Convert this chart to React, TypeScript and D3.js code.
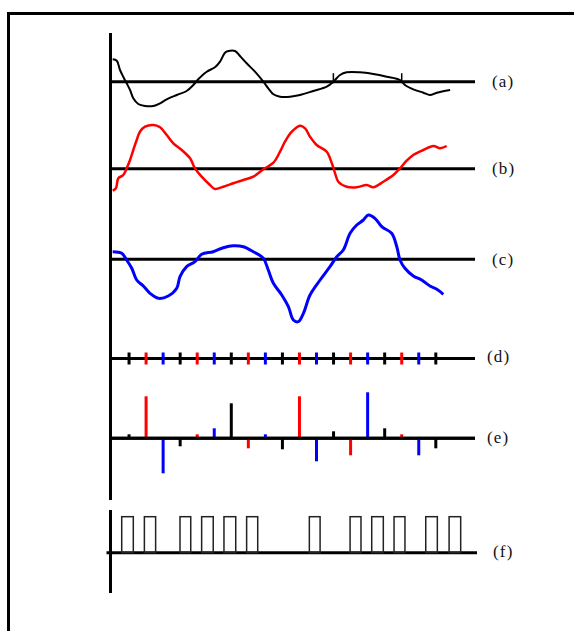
import React from "react";
import * as d3 from "d3";

// Panel labels
const labels = ["(a)", "(b)", "(c)", "(d)", "(e)", "(f)"];

// Waveform (a): [time, amplitude]
const waveA: [number, number][] = [
  [0.04, 2.24], [0.28, 2.1], [0.47, 1.17], [0.66, 0.5], [0.86, -0.16], [1.06, -0.83],
  [1.25, -1.66], [1.54, -2.23], [1.94, -2.43], [2.42, -2.43], [2.82, -2.16], [3.21, -1.76],
  [3.8, -1.33], [4.38, -0.93], [4.77, -0.33], [5.06, 0.24], [5.56, 1.0], [6.04, 1.44],
  [6.34, 2.0], [6.63, 2.9], [6.83, 3.07], [7.22, 3.07], [7.51, 2.57], [7.9, 1.84],
  [8.39, 1.0], [8.88, 0.0], [9.17, -0.66], [9.47, -1.26], [9.86, -1.5], [10.45, -1.5],
  [11.03, -1.33], [11.81, -0.93], [12.6, -0.5], [12.99, 0.0], [13.38, 0.67], [13.77, 0.94],
  [14.55, 0.94], [15.33, 0.77], [16.12, 0.5], [16.9, 0.17], [17.19, -0.33], [17.68, -0.76],
  [18.27, -1.1], [18.66, -1.33], [19.06, -1.1], [19.84, -0.83],
];
// small vertical marks on (a)
const markA = [12.99, 17.0];

// Waveform (b)
const waveB: [number, number][] = [
  [0.04, -2.2], [0.23, -1.96], [0.37, -0.96], [0.66, -0.63], [0.86, 0.04], [1.06, 0.87],
  [1.25, 1.87], [1.45, 2.87], [1.64, 3.7], [1.94, 4.2], [2.42, 4.37], [2.82, 4.14],
  [3.21, 3.37], [3.6, 2.54], [4.09, 1.87], [4.58, 1.04], [4.87, 0.04], [5.26, -0.8],
  [5.75, -1.63], [6.04, -2.03], [6.53, -1.8], [7.12, -1.46], [7.71, -1.13], [8.29, -0.8],
  [8.88, -0.06], [9.47, 0.6], [9.86, 1.7], [10.15, 2.7], [10.55, 3.7], [11.03, 4.3],
  [11.33, 4.04], [11.62, 3.2], [12.01, 2.37], [12.6, 1.7], [12.9, 0.54], [13.09, -0.46],
  [13.28, -1.3], [13.77, -1.8], [14.36, -1.86], [14.95, -1.63], [15.33, -1.86], [15.92, -1.3],
  [16.51, -0.63], [16.9, 0.04], [17.29, 0.8], [17.68, 1.37], [18.27, 1.87], [18.86, 2.27],
  [19.25, 2.04], [19.64, 2.27],
];

// Waveform (c)
const waveC: [number, number][] = [
  [0.04, 0.76], [0.57, 0.6], [0.86, -0.07], [1.16, -0.9], [1.45, -2.07], [1.84, -2.67],
  [2.23, -3.4], [2.72, -3.9], [3.3, -3.67], [3.8, -2.9], [3.99, -1.74], [4.38, -0.74],
  [4.87, -0.24], [5.26, 0.5], [5.94, 0.76], [6.53, 1.16], [7.12, 1.36], [7.71, 1.26],
  [8.29, 0.76], [8.88, 0.1], [9.17, -1.07], [9.47, -2.4], [9.96, -3.57], [10.35, -4.74],
  [10.64, -6.07], [10.93, -6.24], [11.23, -5.4], [11.62, -3.57], [12.21, -2.07], [12.79, -0.74],
  [13.19, 0.26], [13.57, 0.93], [13.97, 2.6], [14.36, 3.43], [14.75, 3.93], [15.04, 4.43],
  [15.43, 4.1], [15.83, 3.26], [16.41, 2.6], [16.71, 1.26], [16.9, -0.07], [17.19, -0.9],
  [17.68, -1.67], [18.17, -2.07], [18.66, -2.67], [19.06, -3.0], [19.44, -3.5],
];

// Sampling instants (d) and sample values (e)
const sampleT = [1, 2, 3, 4, 5, 6, 7, 8, 9, 10, 11, 12, 13, 14, 15, 16, 17, 18, 19];
const sampleColor = [
  "#000", "#f00", "#00f", "#000", "#f00", "#00f", "#000", "#f00", "#00f", "#000",
  "#f00", "#00f", "#000", "#f00", "#00f", "#000", "#f00", "#00f", "#000",
];
const stemValues = [0.4, 4.2, -3.5, -0.8, 0.4, 1.0, 3.5, -1.0, 0.4, -1.1, 4.2, -2.3, 0.7, -1.7, 4.6, 1.0, 0.4, -1.7, -1.0];

// Pulse train (f)
const pulseStart = [0.57, 1.9, 3.99, 5.26, 6.57, 7.9, 11.58, 13.97, 15.24, 16.55, 18.41, 19.78];
const pulseEnd = [1.25, 2.56, 4.62, 5.94, 7.26, 8.55, 12.21, 14.61, 15.92, 17.19, 19.09, 20.46];
const pulseHeight = 3.6;

const W = 574;
const H = 631;

export default function App() {
  const x = d3.scaleLinear().domain([0, 21.3]).range([112, 475]);
  const panel = (base: number) => d3.scaleLinear().domain([-5, 5]).range([base + 50, base - 50]);
  const yA = panel(81.7);
  const yB = panel(168.7);
  const yC = panel(259.3);
  const yD = panel(358.5);
  const yE = panel(438.3);
  const yF = panel(552.7);

  const mkLine = (ys: d3.ScaleLinear<number, number>) =>
    d3
      .line<[number, number]>()
      .x((d) => x(d[0]))
      .y((d) => ys(d[1]))
      .curve(d3.curveCatmullRom.alpha(0.5));

  const axisX = x(0) - 1.5;
  const baseEnd = x(21.3);

  const labelPos = [
    { x: 492, y: yA(0) },
    { x: 492, y: yB(0) },
    { x: 492, y: yC(0) },
    { x: 487, y: yD(0) - 2 },
    { x: 487, y: yE(0) - 1 },
    { x: 493, y: yF(0) - 1 },
  ];

  return (
    <svg
      width={W}
      height={H}
      style={{ position: "absolute", left: 0, top: 0, background: "#fff" }}
    >
      <rect x={0} y={0} width={W} height={H} fill="#fff" />
      {/* frame */}
      <rect x={8.5} y={13.5} width={700} height={700} fill="none" stroke="#000" strokeWidth={3} />

      {/* vertical axis with break */}
      <line x1={axisX} x2={axisX} y1={33} y2={500} stroke="#000" strokeWidth={3} />
      <line x1={axisX} x2={axisX} y1={510} y2={593} stroke="#000" strokeWidth={3} />

      {/* baselines */}
      {[yA, yB, yC, yD, yE].map((ys, i) => (
        <line key={i} x1={axisX} x2={baseEnd} y1={ys(0)} y2={ys(0)} stroke="#000" strokeWidth={3} />
      ))}
      <line x1={axisX - 4} x2={baseEnd + 2} y1={yF(0)} y2={yF(0)} stroke="#000" strokeWidth={3} />

      {/* waveforms */}
      <path d={mkLine(yA)(waveA) || ""} fill="none" stroke="#000" strokeWidth={2} strokeLinejoin="round" />
      {markA.map((t, i) => (
        <line key={i} x1={x(t)} x2={x(t)} y1={yA(0.85)} y2={yA(-0.15)} stroke="#000" strokeWidth={1.5} />
      ))}
      <path d={mkLine(yB)(waveB) || ""} fill="none" stroke="#f00" strokeWidth={2.5} strokeLinejoin="round" />
      <path d={mkLine(yC)(waveC) || ""} fill="none" stroke="#00f" strokeWidth={3} strokeLinejoin="round" />

      {/* (d) sampling ticks */}
      {sampleT.map((t, i) => (
        <line key={i} x1={x(t)} x2={x(t)} y1={yD(0.6)} y2={yD(-0.6)} stroke={sampleColor[i]} strokeWidth={3} />
      ))}

      {/* (e) sample stems */}
      {sampleT.map((t, i) => (
        <line key={i} x1={x(t)} x2={x(t)} y1={yE(0)} y2={yE(stemValues[i])} stroke={sampleColor[i]} strokeWidth={3} />
      ))}
      <line x1={axisX} x2={baseEnd} y1={yE(0)} y2={yE(0)} stroke="#000" strokeWidth={3} />

      {/* (f) pulse train */}
      {pulseStart.map((s, i) => (
        <rect
          key={i}
          x={x(s)}
          y={yF(pulseHeight)}
          width={x(pulseEnd[i]) - x(s)}
          height={yF(0) - yF(pulseHeight)}
          fill="none"
          stroke="#222"
          strokeWidth={1.5}
        />
      ))}

      {/* labels */}
      {labels.map((l, i) => (
        <text
          key={l}
          x={labelPos[i].x}
          y={labelPos[i].y}
          dominantBaseline="central"
          fontFamily="'Liberation Serif', serif"
          fontSize={17}
          letterSpacing={1.2}
          fill="#111"
        >
          {l}
        </text>
      ))}
    </svg>
  );
}
